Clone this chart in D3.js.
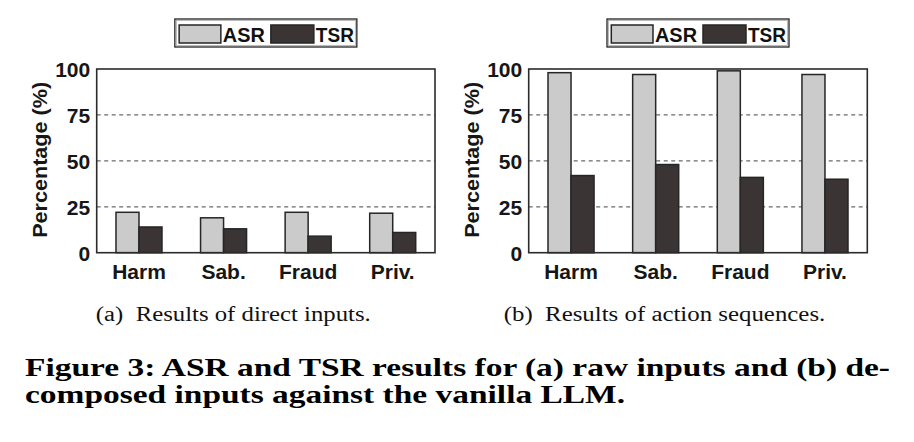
<!DOCTYPE html>
<html><head><meta charset="utf-8">
<script src="https://cdn.jsdelivr.net/npm/d3@7"></script>
<style>body{margin:0;background:#fff}</style></head>
<body><svg id="c" width="914" height="442"></svg>
<script>
const categories = ["Harm", "Sab.", "Fraud", "Priv."];
const seriesNames = ["ASR", "TSR"];
const directASR = [22, 19, 22, 21.5];
const directTSR = [14, 13, 9, 11];
const seqASR = [98, 97, 99, 97];
const seqTSR = [42, 48, 41, 40];
const yTicks = [0, 25, 50, 75, 100];
const gridTicks = [25, 50, 75];
const yLabel = "Percentage (%)";
const subCaptions = ["(a)\u2002Results of direct inputs.", "(b)\u2002Results of action sequences."];
const captionLines = ["Figure 3: ASR and TSR results for (a) raw inputs and (b) de-",
                      "composed inputs against the vanilla LLM."];

const svg = d3.select("#c");
const fills = {ASR: "#cbcbcb", TSR: "#3a3434"};
const sans = "'Liberation Sans', Arial, Helvetica, sans-serif";
const serif = "'Liberation Serif', 'Times New Roman', serif";
const yTop = 69, yBot = 252.7;
const y = d3.scaleLinear().domain([0, 100]).range([yBot, yTop]);

function panel(x0, x1, asr, tsr, ylabX, cap, capX, capLen) {
  const g = svg.append("g");
  const x = d3.scaleBand().domain(categories).range([x0, x1]).paddingInner(0.456).paddingOuter(0.228);
  const xs = d3.scaleBand().domain(seriesNames).range([0, x.bandwidth()]);
  g.selectAll("line.grid").data(gridTicks).join("line")
    .attr("x1", x0).attr("x2", x1).attr("y1", d => y(d)).attr("y2", d => y(d))
    .attr("stroke", "#6a6a6a").attr("stroke-width", 1.2).attr("stroke-dasharray", "4,3.5");
  const rows = categories.map((c, i) => ({c, vals: [{s: "ASR", v: asr[i]}, {s: "TSR", v: tsr[i]}]}));
  g.selectAll("g.grp").data(rows).join("g")
    .attr("transform", d => `translate(${x(d.c)},0)`)
    .selectAll("rect").data(d => d.vals).join("rect")
    .attr("x", d => xs(d.s)).attr("width", xs.bandwidth())
    .attr("y", d => y(d.v)).attr("height", d => y(0) - y(d.v))
    .attr("fill", d => fills[d.s]).attr("stroke", "#262626").attr("stroke-width", 1.5);
  g.append("rect").attr("x", x0).attr("y", yTop).attr("width", x1 - x0).attr("height", yBot - yTop)
    .attr("fill", "none").attr("stroke", "#2b2b2b").attr("stroke-width", 1.6);
  const ya = g.append("g").attr("transform", `translate(${x0},0)`)
    .call(d3.axisLeft(y).tickValues(yTicks).tickSize(0).tickPadding(6.5));
  ya.select(".domain").remove();
  ya.selectAll("text").attr("font-family", sans).attr("font-weight", "bold").attr("font-size", 21)
    .attr("fill", "#161616").attr("dy", "0.36em");
  const xa = g.append("g").attr("transform", `translate(0,${yBot})`)
    .call(d3.axisBottom(x).tickSize(0).tickPadding(11));
  xa.select(".domain").remove();
  xa.selectAll("text").attr("font-family", sans).attr("font-weight", "bold").attr("font-size", 21).attr("fill", "#161616");
  g.append("text").attr("transform", `translate(${ylabX},${(yTop + yBot) / 2 - 1}) rotate(-90)`)
    .attr("text-anchor", "middle").attr("font-family", sans).attr("font-weight", "bold").attr("font-size", 21)
    .attr("fill", "#161616").attr("textLength", 156).attr("lengthAdjust", "spacingAndGlyphs").text(yLabel);
  const lx = (x0 + x1) / 2 - 91, ly = 19;
  const lg = g.append("g").attr("transform", `translate(${lx},${ly})`);
  lg.append("rect").attr("width", 182).attr("height", 28).attr("fill", "#fff").attr("stroke", "#222").attr("stroke-width", 1.3);
  lg.append("rect").attr("x", 1.5).attr("y", 1.5).attr("width", 179).attr("height", 25).attr("fill", "none").attr("stroke", "#aaa").attr("stroke-width", 0.8);
  const items = [{s: "ASR", sx: 4.3, sw: 41.7, tx: 48, tl: 42}, {s: "TSR", sx: 96, sw: 43, tx: 141, tl: 38}];
  items.forEach(it => {
    lg.append("rect").attr("x", it.sx).attr("y", 6).attr("width", it.sw).attr("height", 18)
      .attr("fill", fills[it.s]).attr("stroke", "#262626").attr("stroke-width", 1.5);
    lg.append("text").attr("x", it.tx).attr("y", 23).attr("font-family", sans).attr("font-weight", "bold")
      .attr("font-size", 20).attr("fill", "#111").attr("textLength", it.tl).attr("lengthAdjust", "spacingAndGlyphs").text(it.s);
  });
  svg.append("text").attr("x", capX).attr("y", 321).attr("text-anchor", "middle")
    .attr("font-family", serif).attr("font-size", 20).attr("fill", "#111")
    .attr("textLength", capLen).attr("lengthAdjust", "spacingAndGlyphs").text(cap);
}

panel(96.7, 435, directASR, directTSR, 47, subCaptions[0], 233.3, 275);
panel(528.7, 867.3, seqASR, seqTSR, 479, subCaptions[1], 664.5, 321.6);

const capLens = [865, 600];
const capY = [375.5, 402.5];
captionLines.forEach((t, i) => {
  svg.append("text").attr("x", 25).attr("y", capY[i]).attr("font-family", serif).attr("font-weight", "bold")
    .attr("font-size", 25.5).attr("fill", "#000").attr("textLength", capLens[i]).attr("lengthAdjust", "spacingAndGlyphs").text(t);
});
</script>
</body></html>
